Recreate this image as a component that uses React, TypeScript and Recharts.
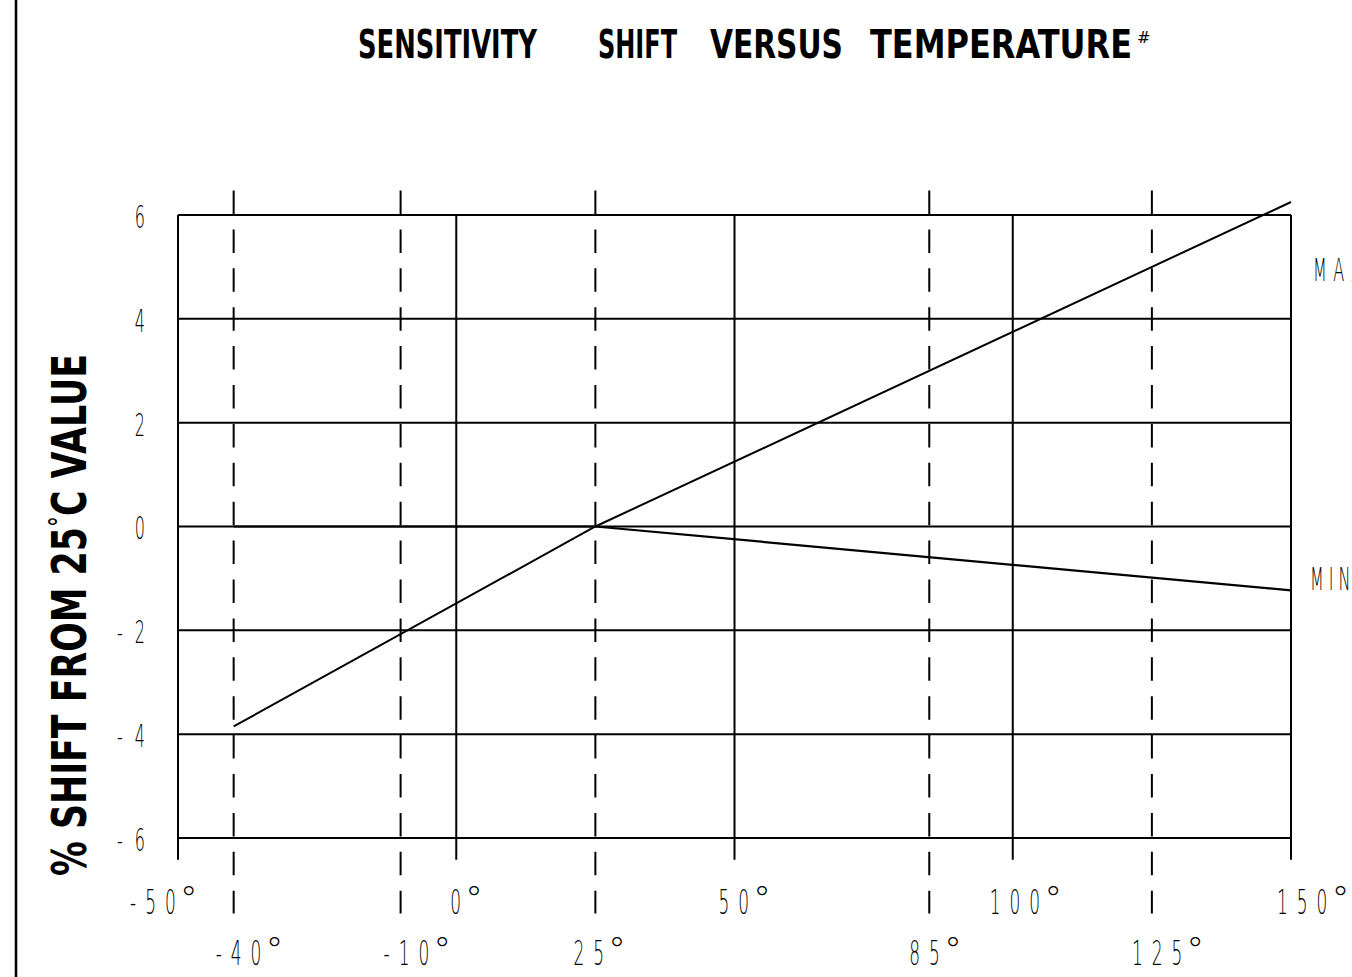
import { LineChart, Line, XAxis, YAxis, ReferenceLine } from "recharts";

// readings
const temps = [-40, 25, 150];
const maxShift = [-3.85, 0, 6.25];
const minShift = [0, 0, -1.23];
const shiftTicks = [-6, -4, -2, 0, 2, 4, 6];
const gridTemps = [-50, 0, 50, 100, 150];
const markedTemps = [-40, -10, 25, 85, 125];
const titleWords = ["SENSITIVITY", "SHIFT", "VERSUS", "TEMPERATURE"];

const data = temps.map((t, i) => ({ t, max: maxShift[i], min: minShift[i] }));
const allTemps = [...gridTemps, ...markedTemps].sort((a, b) => a - b);

const W = 1352;
const H = 977;
const FONT = "DejaVu Sans";
const SX = 0.5;

// title word boxes [left, width]
const titleBoxes = [
  [358, 179],
  [598, 79],
  [710, 133],
  [870, 262],
];

// where each x label starts, relative to its line
const labelDx: Record<string, number> = {
  "-50": -48,
  "0": -6,
  "50": -16,
  "100": -23,
  "150": -14,
  "-40": -18,
  "-10": -17,
  "25": -22,
  "85": -20,
  "125": -20,
};

const adv = (c: string) => (c === "-" ? 0.361 : 0.636);

function textWidth(s: string, size: number, ls: number) {
  let w = 0;
  for (const c of s) w += adv(c) * size + ls;
  return (w - ls) * SX;
}

function Thin({ x, y, text, size = 34, ls = 18 }: any) {
  return (
    <text
      transform={`translate(${x} ${y}) scale(${SX} 1)`}
      fontFamily={FONT}
      fontWeight={200}
      fontSize={size}
      letterSpacing={ls}
      fill="#000"
    >
      {text}
    </text>
  );
}

function Degree({ x, y }: any) {
  return (
    <text x={x} y={y} fontFamily={FONT} fontWeight={200} fontSize={36} fill="#000">
      °
    </text>
  );
}

function XTick(props: any) {
  const { x, y, payload } = props;
  const v = payload.value;
  const major = gridTemps.includes(v);
  const label = String(v);
  const start = x + (labelDx[label] ?? -16);
  const base = y + (major ? 76 : 127);
  const w = textWidth(label, 34, 18);
  return (
    <g>
      <Thin x={start} y={base} text={label} />
      <Degree x={start + w + 4} y={base - 3} />
    </g>
  );
}

function YTick(props: any) {
  const { x, y, payload } = props;
  const label = String(payload.value);
  const w = textWidth(label, 32, 24);
  return <Thin x={x - 33 - w} y={y + 13} text={label} size={32} ls={24} />;
}

export default function App() {
  return (
    <div style={{ position: "absolute", left: 0, top: 0, width: W, height: H, background: "#fff" }}>
      <LineChart
        width={W}
        height={H}
        data={data}
        margin={{ top: 199.42, right: 61, bottom: 109, left: 118 }}
      >
        <XAxis
          dataKey="t"
          type="number"
          domain={[-50, 150]}
          ticks={allTemps}
          interval={0}
          tick={XTick}
          axisLine={false}
          tickLine={false}
          tickSize={0}
          tickMargin={0}
          height={30}
        />
        <YAxis
          type="number"
          domain={[-6, 6.3]}
          ticks={shiftTicks}
          interval={0}
          tick={YTick}
          axisLine={false}
          tickLine={false}
          tickSize={0}
          tickMargin={0}
          width={60}
        />
        {shiftTicks.map((v) => (
          <ReferenceLine key={"h" + v} y={v} stroke="#000" strokeWidth={2} />
        ))}
        {gridTemps.map((t) => (
          <ReferenceLine
            key={"g" + t}
            segment={[
              { x: t, y: 6 },
              { x: t, y: -6.42 },
            ]}
            ifOverflow="visible"
            stroke="#000"
            strokeWidth={2}
          />
        ))}
        {markedTemps.map((t) => (
          <ReferenceLine
            key={"m" + t}
            segment={[
              { x: t, y: 6.472 },
              { x: t, y: -7.456 },
            ]}
            ifOverflow="visible"
            stroke="#000"
            strokeWidth={2}
            strokeDasharray="23.5 15.4"
          />
        ))}
        <Line
          type="linear"
          dataKey="max"
          stroke="#000"
          strokeWidth={2}
          dot={false}
          isAnimationActive={false}
        />
        <Line
          type="linear"
          dataKey="min"
          stroke="#000"
          strokeWidth={2.2}
          dot={false}
          isAnimationActive={false}
        />
      </LineChart>

      <svg
        width={W}
        height={H}
        style={{ position: "absolute", left: 0, top: 0, pointerEvents: "none" }}
      >
        <line x1={16} y1={0} x2={16} y2={H} stroke="#000" strokeWidth={2.5} />

        {titleWords.map((word, i) => (
          <text
            key={word}
            x={titleBoxes[i][0]}
            y={58}
            fontFamily={FONT}
            fontWeight={700}
            fontSize={39}
            textLength={titleBoxes[i][1]}
            lengthAdjust="spacingAndGlyphs"
            fill="#000"
          >
            {word}
          </text>
        ))}
        <text x={1137} y={43} fontFamily={FONT} fontSize={16} fill="#000">
          #
        </text>

        <text
          transform="translate(86 615) rotate(-90)"
          textAnchor="middle"
          fontFamily={FONT}
          fontWeight={700}
          fontSize={48}
          textLength={522}
          lengthAdjust="spacingAndGlyphs"
          fill="#000"
        >
          % SHIFT FROM 25
          <tspan fontSize={30} fontWeight={400} dy={-16}>
            °
          </tspan>
          <tspan dy={16}>C VALUE</tspan>
        </text>

        <Thin x={1313} y={281} text="MAX" size={32} ls={13} />
        <Thin x={1310} y={590} text="MIN" size={32} ls={10} />
      </svg>
    </div>
  );
}
